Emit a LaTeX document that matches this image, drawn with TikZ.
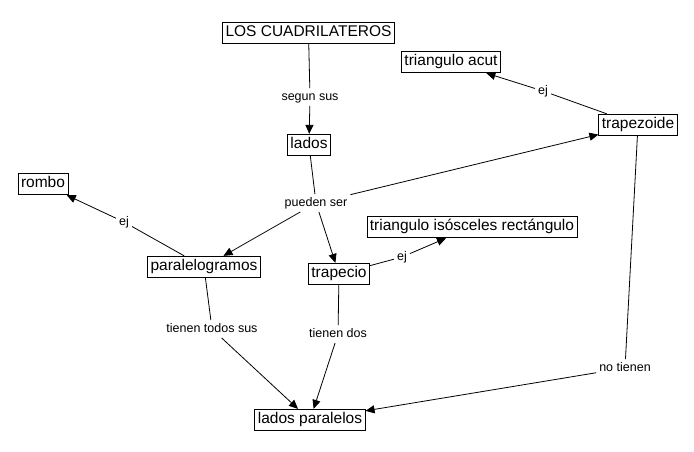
\documentclass[tikz,border=0pt]{standalone}
\usepackage{fontspec}
\setmainfont{Liberation Sans}
\usetikzlibrary{arrows.meta}
\begin{document}
\begin{tikzpicture}[x=1pt,y=-1pt,
  concept/.style={draw,line width=0.8pt,font=\fontsize{15.5}{18}\selectfont,
    inner xsep=3pt,inner ysep=3.5pt,text height=11pt,text depth=3.5pt},
  linkl/.style={font=\fontsize{12.5}{15}\selectfont,inner sep=3pt,text height=9pt,text depth=2.5pt},
  conn/.style={line width=0.8pt},
  arr/.style={line width=0.8pt,-{Triangle[length=9pt,width=8pt]}}]
\fill[white] (0,0) rectangle (694,452);
\useasboundingbox (0,0) rectangle (694,452);
% concepts
\node[concept] (cuad) at (308.5,33) {LOS CUADRILATEROS};
\node[concept] (lados) at (309,145) {lados};
\node[concept] (trapezoide) at (638,125) {trapezoide};
\node[concept] (tacut) at (451,62) {triangulo acut};
\node[concept] (rombo) at (43,184) {rombo};
\node[concept] (paral) at (204,267) {paralelogramos};
\node[concept] (trapecio) at (339,274) {trapecio};
\node[concept] (tisos) at (472,227) {triangulo isósceles rectángulo};
\node[concept] (ladpar) at (310,420) {lados paralelos};
% linking phrases
\node[linkl] (segun) at (310,97) {segun sus};
\node[linkl] (pueden) at (316,203) {pueden ser};
\node[linkl] (ej1) at (543,91) {ej};
\node[linkl] (ej2) at (124,222) {ej};
\node[linkl] (ej3) at (402,257) {ej};
\node[linkl] (tts) at (212,329) {tienen todos sus};
\node[linkl] (tdos) at (338,334) {tienen dos};
\node[linkl] (notienen) at (625,368) {no tienen};
% connectors
\draw[conn] (cuad) -- (segun);
\draw[arr] (segun) -- (lados);
\draw[conn] (lados) -- (pueden);
\draw[arr] (pueden) -- (paral);
\draw[arr] (pueden) -- (trapecio);
\draw[arr] (pueden) -- (trapezoide);
\draw[conn] (trapezoide) -- (ej1);
\draw[arr] (ej1) -- (tacut);
\draw[conn] (paral) -- (ej2);
\draw[arr] (ej2) -- (rombo);
\draw[conn] (trapecio) -- (ej3);
\draw[arr] (ej3) -- (tisos);
\draw[conn] (paral) -- (tts);
\draw[arr] (tts) -- (ladpar);
\draw[conn] (trapecio) -- (tdos);
\draw[arr] (tdos) -- (ladpar);
\draw[conn] (trapezoide) -- (notienen);
\draw[arr] (notienen) -- (ladpar);
\end{tikzpicture}
\end{document}
